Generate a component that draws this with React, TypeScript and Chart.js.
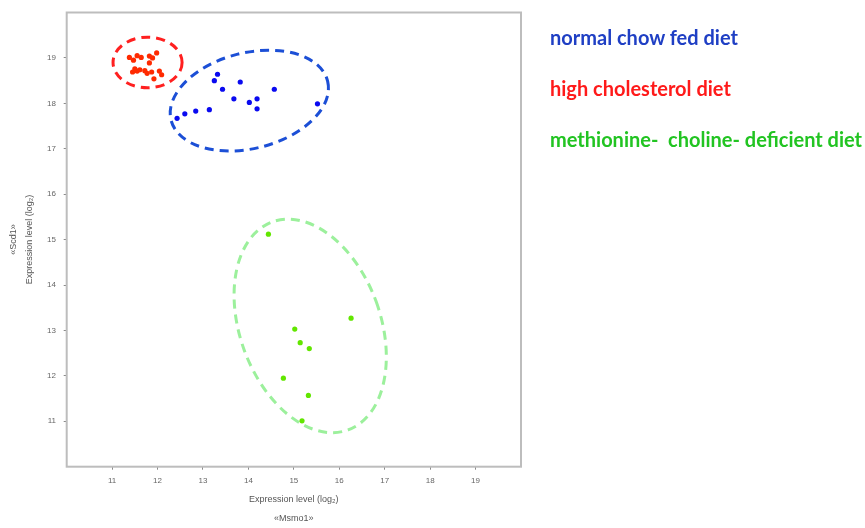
import React, { useEffect, useRef } from "react";
import { Chart, registerables } from "chart.js";

Chart.register(...registerables);

const xTickValues = [11, 12, 13, 14, 15, 16, 17, 18, 19];
const yTickValues = [11, 12, 13, 14, 15, 16, 17, 18, 19];

const normalChowX = [12.43, 12.6, 12.84, 13.14, 13.25, 13.32, 13.43, 13.82, 13.68, 14.02, 14.19, 14.19, 14.57, 15.52];
const normalChowY = [17.67, 17.77, 17.83, 17.86, 18.5, 18.64, 18.31, 18.47, 18.1, 18.02, 18.1, 17.88, 18.31, 17.99];

const highCholX = [11.38, 11.55, 11.64, 11.82, 11.89, 11.98, 11.82, 11.47, 11.45, 11.55, 11.61, 11.77, 11.87, 11.92, 12.04, 12.09, 11.72, 11.5];
const highCholY = [19.01, 19.05, 19.01, 19.04, 19.0, 19.11, 18.89, 18.95, 18.69, 18.71, 18.74, 18.66, 18.69, 18.54, 18.71, 18.63, 18.72, 18.76];

const mcdX = [14.44, 16.26, 15.02, 15.14, 15.34, 14.77, 15.32, 15.18];
const mcdY = [15.12, 13.27, 13.03, 12.73, 12.6, 11.95, 11.57, 11.01];

// ellipses: high cholesterol, normal chow, MCD
const ellipseCenterX = [11.78, 14.02, 15.36];
const ellipseCenterY = [18.9, 18.06, 13.1];
const ellipseRadiusX = [0.76, 1.776, 1.547];
const ellipseRadiusY = [0.557, 1.054, 2.437];
const ellipseAngleDeg = [0, -14, -20];
const ellipseColors = ["#ff2020", "#1c4fd6", "#9cf09c"];

const legendLabels = ["normal chow fed diet", "high cholesterol diet", "methionine-  choline- deficient diet"];
const legendColors = ["#1f3fc4", "#ff1a1a", "#22c422"];

const toPoints = (xs: number[], ys: number[]) => xs.map((x, i) => ({ x, y: ys[i] }));

const boxPlugin = {
  id: "boxAndEllipses",
  beforeDatasetsDraw(chart: any) {
    const { ctx, chartArea, scales } = chart;
    const xs = scales.x;
    const ys = scales.y;
    ctx.save();
    ctx.strokeStyle = "#bdbdbd";
    ctx.lineWidth = 2;
    ctx.strokeRect(chartArea.left, chartArea.top, chartArea.right - chartArea.left, chartArea.bottom - chartArea.top);
    ellipseCenterX.forEach((cx, i) => {
      const px = xs.getPixelForValue(cx);
      const py = ys.getPixelForValue(ellipseCenterY[i]);
      const rx = Math.abs(xs.getPixelForValue(cx + ellipseRadiusX[i]) - px);
      const ry = Math.abs(ys.getPixelForValue(ellipseCenterY[i] + ellipseRadiusY[i]) - py);
      ctx.beginPath();
      ctx.ellipse(px, py, rx, ry, (ellipseAngleDeg[i] * Math.PI) / 180, 0, Math.PI * 2);
      ctx.strokeStyle = ellipseColors[i];
      ctx.lineWidth = 3;
      ctx.setLineDash([9, 6]);
      ctx.stroke();
    });
    ctx.restore();
  },
};

export default function App() {
  const canvasRef = useRef<HTMLCanvasElement | null>(null);

  useEffect(() => {
    if (!canvasRef.current) return;
    const chart = new Chart(canvasRef.current, {
      type: "scatter",
      data: {
        datasets: [
          {
            label: "normal chow fed diet",
            data: toPoints(normalChowX, normalChowY),
            backgroundColor: "#0a0af0",
            borderWidth: 0,
            pointRadius: 2.6,
          },
          {
            label: "high cholesterol diet",
            data: toPoints(highCholX, highCholY),
            backgroundColor: "#ff2a00",
            borderWidth: 0,
            pointRadius: 2.6,
          },
          {
            label: "methionine- choline- deficient diet",
            data: toPoints(mcdX, mcdY),
            backgroundColor: "#62e600",
            borderWidth: 0,
            pointRadius: 2.6,
          },
        ],
      },
      options: {
        animation: false,
        responsive: false,
        devicePixelRatio: 1,
        layout: { padding: { left: 0, top: 9.3, right: 344, bottom: 0 } },
        plugins: { legend: { display: false }, tooltip: { enabled: false } },
        scales: {
          x: {
            type: "linear",
            min: 10,
            max: 20,
            afterBuildTicks: (s: any) => {
              s.ticks = xTickValues.map((v) => ({ value: v }));
            },
            afterFit: (s: any) => {
              s.height = 61.3;
            },
            border: { display: false },
            grid: { drawOnChartArea: false, drawTicks: true, tickLength: 3, color: "#8a8a8a", lineWidth: 1 },
            ticks: {
              color: "#666",
              font: { family: "Liberation Sans", size: 8 },
              padding: 6.5,
              maxRotation: 0,
              autoSkip: false,
            },
            title: {
              display: true,
              text: ["Expression level (log₂)", "«Msmo1»"],
              color: "#555",
              font: { family: "Liberation Sans", size: 9, lineHeight: 2.1 },
              padding: { top: 0, bottom: 0 },
            },
          },
          y: {
            type: "linear",
            min: 10,
            max: 20,
            afterBuildTicks: (s: any) => {
              s.ticks = yTickValues.map((v) => ({ value: v }));
            },
            afterFit: (s: any) => {
              s.width = 66.7;
            },
            border: { display: false },
            grid: { drawOnChartArea: false, drawTicks: true, tickLength: 3, color: "#8a8a8a", lineWidth: 1 },
            ticks: {
              color: "#666",
              font: { family: "Liberation Sans", size: 8 },
              padding: 7.7,
              autoSkip: false,
            },
            title: {
              display: true,
              text: ["«Scd1»", "Expression level (log₂)"],
              color: "#555",
              font: { family: "Liberation Sans", size: 9, lineHeight: 1.67 },
              padding: { top: 6.5, bottom: 0 },
            },
          },
        },
      },
      plugins: [boxPlugin],
    });
    return () => chart.destroy();
  }, []);

  return (
    <div style={{ position: "absolute", left: 0, top: 0, width: 865, height: 528, background: "#fff" }}>
      <canvas ref={canvasRef} width={865} height={528} style={{ position: "absolute", left: 0, top: 0 }} />
      {legendLabels.map((t, i) => (
        <div
          key={t}
          style={{
            position: "absolute",
            left: 550,
            top: 27 + i * 51,
            fontFamily: "Lato",
            fontWeight: 700,
            fontSize: 20,
            lineHeight: "20px",
            color: legendColors[i],
            whiteSpace: "pre",
          }}
        >
          {t}
        </div>
      ))}
    </div>
  );
}
